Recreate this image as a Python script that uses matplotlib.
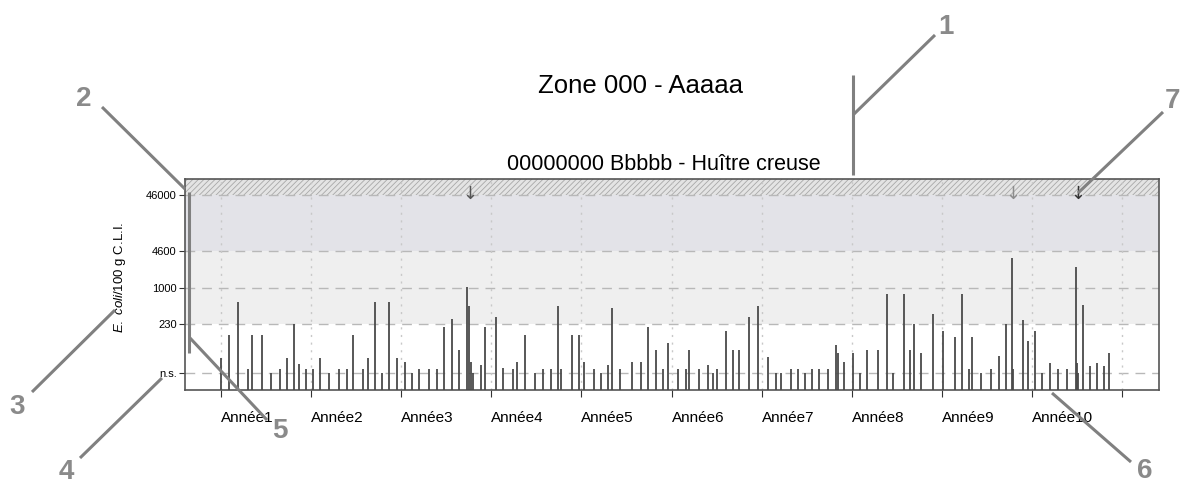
import matplotlib
matplotlib.use('Agg')
import matplotlib.pyplot as plt
from matplotlib.lines import Line2D

plt.rcParams['font.family'] = ['Liberation Sans', 'DejaVu Sans']
plt.rcParams['mathtext.fontset'] = 'custom'
plt.rcParams['mathtext.it'] = 'Liberation Sans:italic'
plt.rcParams['mathtext.rm'] = 'Liberation Sans'
plt.rcParams['hatch.linewidth'] = 0.6

# dates des prélèvements (en années depuis le début) et résultats E. coli
sample_t = [0.003, 0.085, 0.185, 0.296, 0.347, 0.452, 0.555, 0.655, 0.733, 0.814,
            0.869, 0.943, 1.018, 1.099, 1.199, 1.310, 1.395, 1.462, 1.579, 1.628,
            1.713, 1.787, 1.861, 1.950, 2.042, 2.117, 2.198, 2.309, 2.394, 2.478,
            2.561, 2.645, 2.730, 2.756, 2.771, 2.797, 2.882, 2.927, 3.049, 3.130,
            3.241, 3.289, 3.374, 3.488, 3.577, 3.659, 3.737, 3.770, 3.896, 3.973,
            4.026, 4.140, 4.214, 4.292, 4.336, 4.428, 4.558, 4.658, 4.736, 4.831,
            4.906, 4.961, 5.067, 5.161, 5.198, 5.309, 5.408, 5.457, 5.502, 5.601,
            5.679, 5.752, 5.863, 5.963, 6.074, 6.160, 6.212, 6.326, 6.407, 6.478,
            6.556, 6.634, 6.734, 6.823, 6.851, 6.918, 7.018, 7.092, 7.173, 7.289,
            7.388, 7.462, 7.577, 7.647, 7.695, 7.766, 7.906, 8.017, 8.150, 8.228,
            8.302, 8.339, 8.438, 8.546, 8.635, 8.712, 8.782, 8.794, 8.898, 8.953,
            9.038, 9.109, 9.205, 9.287, 9.393, 9.486, 9.501, 9.516, 9.572, 9.645,
            9.720, 9.800, 9.859]
sample_val = [56, 142, 561, 36, 142, 142, 30, 36, 56, 230,
              44, 36, 36, 56, 30, 36, 36, 142, 36, 56,
              561, 30, 561, 56, 47, 30, 36, 36, 36, 200,
              275, 79, 1040, 475, 47, 30, 42, 200, 299, 37,
              36, 47, 142, 30, 36, 36, 475, 36, 142, 142,
              47, 36, 30, 42, 438, 36, 47, 47, 200, 79,
              36, 103, 36, 36, 79, 36, 42, 30, 36, 167,
              79, 79, 299, 475, 58, 30, 30, 36, 36, 30,
              36, 36, 36, 94, 68, 47, 68, 30, 79, 79,
              794, 30, 794, 79, 230, 68, 338, 167, 132, 794,
              36, 132, 30, 36, 62, 230, 3450, 36, 263, 111,
              167, 30, 45, 36, 36, 2380, 45, 30, 490, 40,
              45, 40, 68]

# prélèvements signalés par une flèche
arrow_t = [2.764, 8.79, 9.51]
arrow_colors = ['#555555', '#8c8c8c', '#333333']

years = ['Année1', 'Année2', 'Année3', 'Année4', 'Année5',
         'Année6', 'Année7', 'Année8', 'Année9', 'Année10']
y_ticks = [30, 230, 1000, 4600, 46000]
y_ticklabels = ['n.s.', '230', '1000', '4600', '46000']

W, H = 1186, 486
fig = plt.figure(figsize=(W / 100, H / 100), dpi=100)
ax = fig.add_axes([185 / W, 1 - 390 / H, (1159 - 185) / W, (390 - 179) / H])

ymin, ymax = 15, 89000
ax.set_yscale('log')
ax.set_ylim(ymin, ymax)
ax.set_xlim(-0.40, 10.41)

# bandes de seuils
ax.axhspan(230, 4600, color='#efefef', lw=0, zorder=0)
ax.axhspan(4600, 46000, color='#e3e3e8', lw=0, zorder=0)
ax.axhspan(46000, ymax, facecolor='#e4e4e4', edgecolor='#a8a8a8', hatch='//////', lw=0, zorder=0)

for v in y_ticks:
    ax.axhline(v, color='#b8b8b8', lw=1, dashes=(7, 5), zorder=1)
for k in range(11):
    ax.axvline(k, color='#c8c8c8', lw=1, ls=(0, (1.5, 4)), zorder=1)

ax.vlines(sample_t, ymin, sample_val, color='#4a4a4a', lw=1.3, zorder=3)

for t, c in zip(arrow_t, arrow_colors):
    ax.text(t, 49000, '↓', ha='center', va='center', fontsize=13, color=c,
            family='DejaVu Sans', zorder=4)

ax.set_yticks(y_ticks)
ax.set_yticklabels(y_ticklabels, fontsize=8)
ax.minorticks_off()
ax.set_xticks(range(11))
ax.set_xticklabels(years + [''], fontsize=11)
for lbl in ax.get_xticklabels():
    lbl.set_ha('left')
ax.tick_params(axis='x', length=5, pad=10, color='#333333')
ax.tick_params(axis='y', length=4, pad=2, color='#333333')
for s in ax.spines.values():
    s.set_color('#555555')
    s.set_linewidth(1.2)

fig.text(120 / W, 1 - 277 / H, r'$\it{E.\ coli}$/100 g C.L.I.', rotation=90,
         ha='center', va='center', fontsize=9.5)

fig.text(641 / W, 1 - 86 / H, 'Zone 000 - Aaaaa', ha='center', va='center', fontsize=18.5)
fig.text(664 / W, 1 - 164 / H, '00000000 Bbbbb - Huître creuse', ha='center', va='center', fontsize=15.5)

# repères numérotés
callouts = [('1', (946, 27), [(935, 35), (853, 115)]),
            ('2', (84, 99), [(102, 107), (185, 189)]),
            ('3', (17, 407), [(32, 392), (115, 310)]),
            ('4', (66, 472), [(80, 458), (162, 378)]),
            ('5', (280, 431), [(190, 338), (267, 420)]),
            ('6', (1145, 471), [(1052, 393), (1131, 462)]),
            ('7', (1173, 101), [(1163, 112), (1078, 193)])]
extra_lines = [[(853, 75), (853, 175)], [(189, 192), (189, 353)]]


def px_line(p0, p1):
    fig.add_artist(Line2D([p0[0] / W, p1[0] / W], [1 - p0[1] / H, 1 - p1[1] / H],
                          transform=fig.transFigure, color='#808080', lw=2.2,
                          solid_capstyle='butt', zorder=10))


for num, pos, seg in callouts:
    fig.text(pos[0] / W, 1 - pos[1] / H, num, ha='center', va='center',
             fontsize=20, fontweight='bold', color='#8a8a8a')
    px_line(*seg)
for seg in extra_lines:
    px_line(*seg)

fig.savefig('out.png', dpi=100)
